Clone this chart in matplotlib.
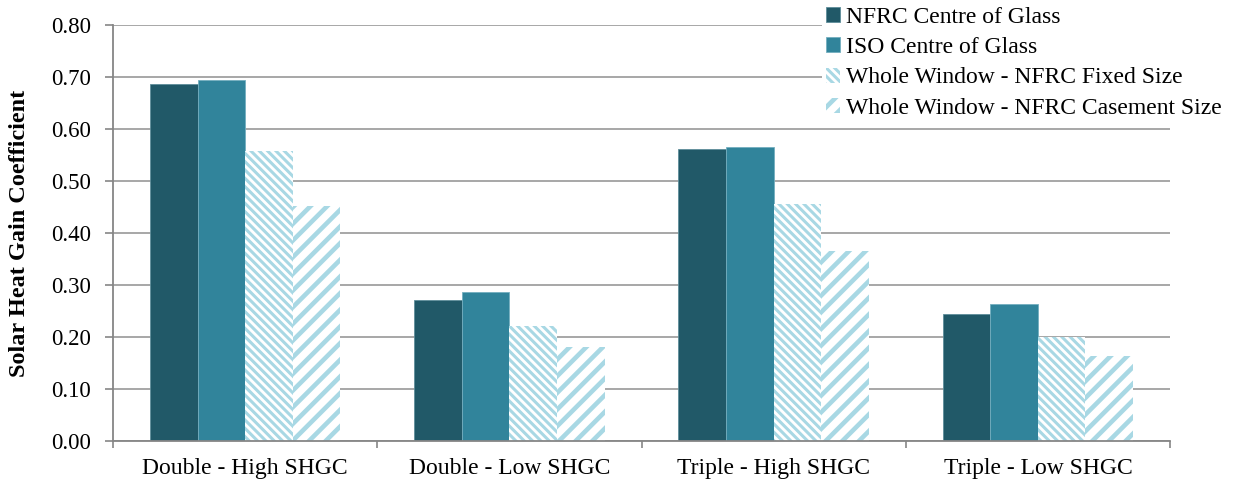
import matplotlib
matplotlib.use("Agg")
import matplotlib.pyplot as plt
import numpy as np

categories = ["Double - High SHGC", "Double - Low SHGC", "Triple - High SHGC", "Triple - Low SHGC"]
series_names = ["NFRC Centre of Glass", "ISO Centre of Glass",
                "Whole Window - NFRC Fixed Size", "Whole Window - NFRC Casement Size"]
nfrc_cog = [0.687, 0.271, 0.561, 0.244]
iso_cog = [0.695, 0.287, 0.566, 0.263]
ww_fixed = [0.558, 0.222, 0.455, 0.200]
ww_casement = [0.451, 0.181, 0.366, 0.163]
yticks = [0.0, 0.1, 0.2, 0.3, 0.4, 0.5, 0.6, 0.7, 0.8]

plt.rcParams['font.family'] = ['Liberation Serif', 'DejaVu Serif']
plt.rcParams['hatch.linewidth'] = 2.2

fig = plt.figure(figsize=(12.37, 4.82), dpi=100)
ax = fig.add_axes([113/1237, 1-441/482, (1170-113)/1237, (441-25)/482])

x = np.arange(len(categories))
w = 0.18
offsets = [-1.5*w, -0.5*w, 0.5*w, 1.5*w]
hatch_col = '#A8D8E4'

ax.bar(x+offsets[0], nfrc_cog, w, color='#215968', edgecolor='#5E8E9A', linewidth=0.6,
       label=series_names[0], zorder=3)
ax.bar(x+offsets[1], iso_cog, w, color='#31849B', edgecolor='#74AFBF', linewidth=0.6,
       label=series_names[1], zorder=3)
with plt.rc_context({'hatch.linewidth': 2.2}):
    b3 = ax.bar(x+offsets[2], ww_fixed, w, color='white', edgecolor=hatch_col, linewidth=0,
                hatch='\\' * 4, label=series_names[2], zorder=3)
with plt.rc_context({'hatch.linewidth': 3.3}):
    b4 = ax.bar(x+offsets[3], ww_casement, w, color='white', edgecolor=hatch_col, linewidth=0,
                hatch='//', label=series_names[3], zorder=3)
for bars, lw in ((b3, 2.2), (b4, 3.3)):
    for p in bars:
        if hasattr(p, 'set_hatch_linewidth'):
            p.set_hatch_linewidth(lw)

ax.set_xlim(-0.5, 3.5)
ax.set_ylim(0, 0.8)
ax.set_yticks(yticks)
ax.set_yticklabels([f"{v:.2f}" for v in yticks])
ax.set_xticks(x)
ax.set_xticklabels(categories)
ax.set_xticks(np.arange(-0.5, 4.0, 1.0), minor=True)
ax.tick_params(axis='x', which='major', length=0, pad=12, labelsize=17)
ax.tick_params(axis='x', which='minor', length=5, width=1.2, color='#868686', direction='out')
ax.tick_params(axis='y', length=6, width=1.2, color='#868686', labelsize=16.5, pad=10)

ax.yaxis.grid(True, color='#A0A0A0', linewidth=1.3, zorder=0)
ax.set_axisbelow(True)
for s in ['top', 'right']:
    ax.spines[s].set_visible(False)
for s in ['left', 'bottom']:
    ax.spines[s].set_color('#868686')
    ax.spines[s].set_linewidth(1.3)
    ax.spines[s].set_zorder(4)

ax.set_ylabel("Solar Heat Gain Coefficient", fontsize=17.5, fontweight='bold', labelpad=15)

leg = fig.legend(loc='upper left', bbox_to_anchor=(822/1237, 1.0 - 3/482), fontsize=17,
                 frameon=True, facecolor='white', edgecolor='none', framealpha=1,
                 handlelength=0.6, handleheight=0.6, handletextpad=0.25,
                 labelspacing=0.4, borderpad=0.15, borderaxespad=0)
for h, lw in zip(leg.legend_handles[2:], (2.2, 3.3)):
    if hasattr(h, 'set_hatch_linewidth'):
        h.set_hatch_linewidth(lw)

fig.savefig("out.png", dpi=100)
